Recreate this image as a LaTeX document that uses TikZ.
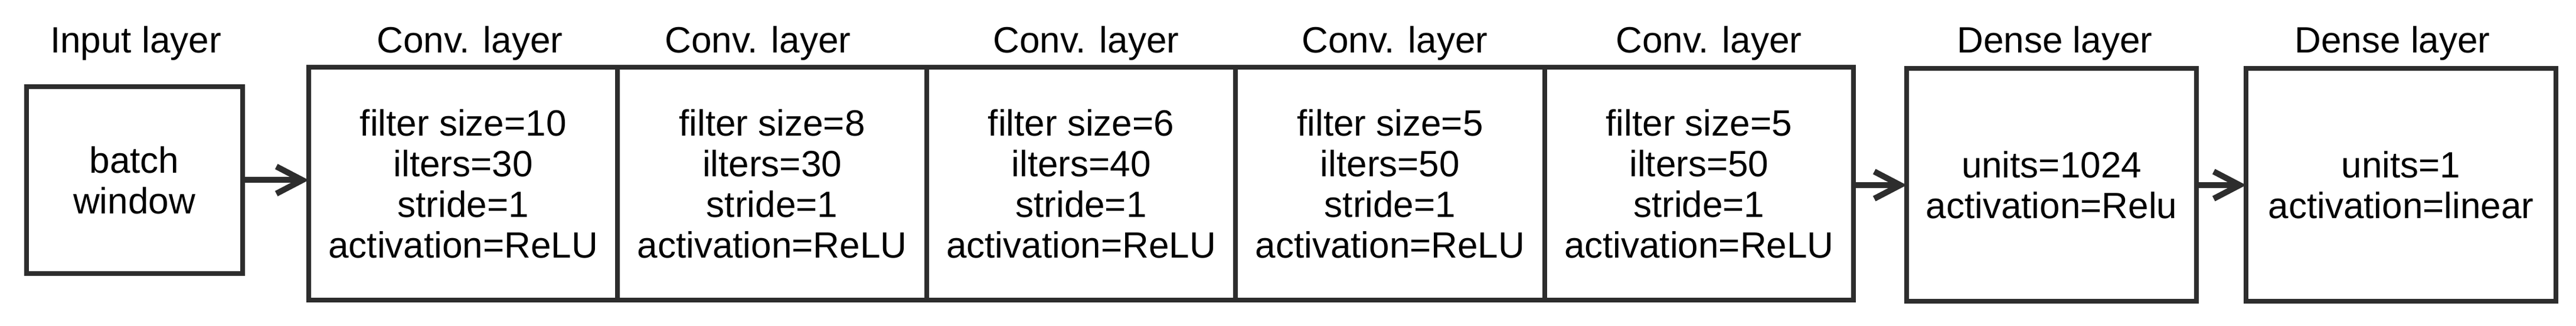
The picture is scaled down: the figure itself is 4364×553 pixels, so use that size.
\documentclass[tikz,border=0pt]{standalone}
\usepackage{fontspec}
\setmainfont{Liberation Sans}
\usetikzlibrary{arrows.meta}
\definecolor{linec}{RGB}{45,45,45}
\tikzset{
  box/.style={draw=linec, line width=2pt, rectangle, outer sep=0pt, inner sep=0pt,
    align=center, font=\fontsize{15.5pt}{17.25pt}\selectfont, text=black},
  inbox/.style={box, minimum width=91.5pt, minimum height=79.25pt},
  convbox/.style={box, minimum width=130.85pt, minimum height=98.75pt},
  lbl/.style={anchor=base, inner sep=0pt, font=\fontsize{15.5pt}{17.25pt}\selectfont, text=black},
  arr/.style={draw=linec, line width=2.5pt, -{Straight Barb[length=11pt, width=11.5pt]}}
}
\begin{document}
\begin{tikzpicture}[x=0.25pt, y=-0.25pt]
\useasboundingbox (0,0) rectangle (4364,553);
% boxes
\node[inbox] (inp) at (227.5,305.5) {batch\\window};
\node[convbox] (c1) at (784.7,312) {filter size=10\\ilters=30\\stride=1\\activation=ReLU};
\node[convbox] (c2) at (1308.1,312) {filter size=8\\ilters=30\\stride=1\\activation=ReLU};
\node[convbox] (c3) at (1831.5,312) {filter size=6\\ilters=40\\stride=1\\activation=ReLU};
\node[convbox] (c4) at (2354.9,312) {filter size=5\\ilters=50\\stride=1\\activation=ReLU};
\node[convbox] (c5) at (2878.3,312) {filter size=5\\ilters=50\\stride=1\\activation=ReLU};
\node[box, minimum width=122.75pt, minimum height=98.75pt] (d1) at (3475.5,314) {units=1024\\activation=Relu};
\node[box, minimum width=131.25pt, minimum height=98.75pt] (d2) at (4067.5,314) {units=1\\activation=linear};
% labels
\node[lbl] (l0) at (230,90) {Input layer};
\node[lbl] (l1) at (796,90) {Conv. layer};
\node[lbl] (l2) at (1284,90) {Conv. layer};
\node[lbl] (l3) at (1840,90) {Conv. layer};
\node[lbl] (l4) at (2363,90) {Conv. layer};
\node[lbl] (l5) at (2895,90) {Conv. layer};
\node[lbl] (l6) at (3481,90) {Dense layer};
\node[lbl] (l7) at (4053,90) {Dense layer};
% arrows
\draw[arr] (inp.east) -- (c1.west |- inp.east);
\draw[arr] (c5.east |- d1.west) -- (d1.west);
\draw[arr] (d1.east) -- (d2.west);
\end{tikzpicture}
\end{document}
